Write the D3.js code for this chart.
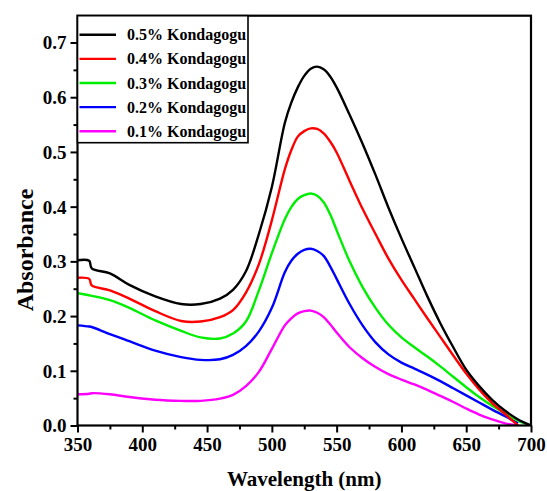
<!DOCTYPE html>
<html><head><meta charset="utf-8">
<script src="https://cdn.jsdelivr.net/npm/d3@7/dist/d3.min.js"></script>
<style>
html,body{margin:0;padding:0;background:#fff;}
svg{display:block;font-family:"Liberation Serif","Times New Roman",serif;font-weight:bold;}
</style></head><body>
<svg id="chart" width="547" height="491"></svg>
<script>
const wavelength = [350,359,361,375,390,410,430,445,460,470,480,490,500,510,515,520,525,530,535,540,545,550,560,570,580,590,600,610,620,630,640,650,660,670,680,690,700];
const seriesNames = ["0.5% Kondagogu","0.4% Kondagogu","0.3% Kondagogu","0.2% Kondagogu","0.1% Kondagogu"];
const seriesColors = ["#000000","#ff0000","#00ee00","#0000ff","#ff00ff"];
const abs05 = [0.302,0.301,0.287,0.278,0.257,0.236,0.222,0.222,0.232,0.248,0.282,0.350,0.436,0.553,0.590,0.618,0.639,0.652,0.656,0.651,0.638,0.618,0.568,0.515,0.458,0.398,0.342,0.289,0.236,0.187,0.143,0.102,0.072,0.047,0.027,0.011,0.0];
const abs04 = [0.270,0.268,0.256,0.247,0.232,0.209,0.191,0.190,0.198,0.211,0.243,0.295,0.375,0.468,0.503,0.528,0.538,0.543,0.542,0.534,0.519,0.499,0.447,0.396,0.350,0.305,0.266,0.231,0.196,0.162,0.128,0.095,0.066,0.041,0.021,0.0,null];
const abs03 = [0.242,0.238,0.237,0.229,0.215,0.192,0.173,0.161,0.159,0.168,0.190,0.247,0.315,0.377,0.399,0.414,0.421,0.424,0.420,0.408,0.386,0.357,0.300,0.253,0.215,0.184,0.161,0.143,0.126,0.108,0.089,0.070,0.052,0.036,0.022,0.009,0.0];
const abs02 = [0.183,0.181,0.180,0.167,0.154,0.137,0.125,0.120,0.121,0.129,0.145,0.172,0.215,0.280,0.301,0.314,0.321,0.323,0.319,0.310,0.291,0.268,0.222,0.183,0.152,0.130,0.115,0.104,0.093,0.081,0.068,0.055,0.042,0.029,0.017,0.004,null];
const abs01 = [0.057,0.058,0.059,0.057,0.052,0.047,0.045,0.045,0.049,0.056,0.072,0.098,0.140,0.183,0.196,0.205,0.209,0.210,0.206,0.198,0.185,0.170,0.143,0.123,0.107,0.094,0.084,0.075,0.065,0.054,0.043,0.031,0.020,0.011,0.004,0.0,null];
const seriesValues = [abs05,abs04,abs03,abs02,abs01];
const xTicks = [350,400,450,500,550,600,650,700];
const yTicks = [0.0,0.1,0.2,0.3,0.4,0.5,0.6,0.7];

const svg = d3.select("#chart");
const L = 77.5, R = 531, T = 15.7, B = 425.5;
const x = d3.scaleLinear().domain([350,700]).range([L,R]);
const y = d3.scaleLinear().domain([0,0.749]).range([B,T]);

// curves
const line = d3.line()
  .defined(d => d[1] !== null)
  .x(d => x(d[0])).y(d => y(d[1]))
  .curve(d3.curveCatmullRom.alpha(0.5));
svg.append("clipPath").attr("id","clip").append("rect")
  .attr("x",L).attr("y",T).attr("width",R-L).attr("height",B-T);
const gLines = svg.append("g").attr("clip-path","url(#clip)");
seriesValues.slice().reverse().forEach((vals,ri) => {
  const i = seriesValues.length-1-ri;
  gLines.append("path")
    .datum(wavelength.map((w,k)=>[w,vals[k]]))
    .attr("d", line)
    .attr("fill","none")
    .attr("stroke", seriesColors[i])
    .attr("stroke-width", 2.4)
    .attr("stroke-linejoin","round");
});

// axes
const xAxis = svg.append("g").attr("transform",`translate(0,${B})`)
  .call(d3.axisBottom(x).tickValues(xTicks).tickFormat(d3.format("d")).tickSize(7).tickPadding(5));
const xMinor = svg.append("g").attr("transform",`translate(0,${B})`)
  .call(d3.axisBottom(x).tickValues(d3.range(375,700,50)).tickFormat("").tickSize(4));
const yAxis = svg.append("g").attr("transform",`translate(${L},0)`)
  .call(d3.axisLeft(y).tickValues(yTicks).tickFormat(d3.format(".1f")).tickSize(7).tickPadding(4));
const yMinor = svg.append("g").attr("transform",`translate(${L},0)`)
  .call(d3.axisLeft(y).tickValues(d3.range(0.05,0.75,0.1)).tickFormat("").tickSize(4));
[xAxis,xMinor,yAxis,yMinor].forEach(g=>{
  g.select(".domain").remove();
  g.selectAll(".tick line").attr("stroke","#000").attr("stroke-width",2);
  g.selectAll("text").attr("fill","#000").style("font-size","19px")
   .style("font-family",'"Liberation Serif","Times New Roman",serif').style("font-weight","bold");
});
yAxis.selectAll("text").attr("dy","0.34em");

// frame
svg.append("rect").attr("x",L).attr("y",T).attr("width",R-L).attr("height",B-T)
  .attr("fill","none").attr("stroke","#000").attr("stroke-width",2.2);

// axis titles
svg.append("text").attr("x",(L+R)/2).attr("y",486).attr("text-anchor","middle")
  .style("font-size","21px").text("Wavelength (nm)");
svg.append("text").attr("transform",`translate(33,250) rotate(-90)`)
  .attr("text-anchor","middle").style("font-size","24px").text("Absorbance");

// legend
const lg = svg.append("g");
lg.append("rect").attr("x",L).attr("y",T).attr("width",248-L).attr("height",142.7-T)
  .attr("fill","#fff").attr("stroke","#000").attr("stroke-width",1.6);
seriesNames.forEach((n,i)=>{
  const ly = 34.7 + i*24.15;
  lg.append("line").attr("x1",L+2).attr("x2",116).attr("y1",ly).attr("y2",ly)
    .attr("stroke",seriesColors[i]).attr("stroke-width",2.4);
  lg.append("text").attr("x",127).attr("y",ly+5.5).style("font-size","16px").text(n);
});
</script>
</body></html>
